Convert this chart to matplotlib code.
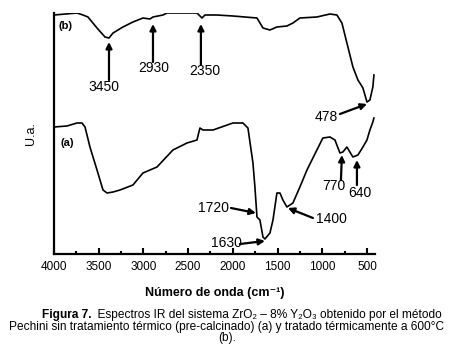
import matplotlib
matplotlib.use("Agg")
import matplotlib.pyplot as plt
from matplotlib.ticker import MultipleLocator

plt.rcParams['font.family'] = ['Liberation Sans', 'DejaVu Sans']

# espectro (b) tratado a 600 C: numero de onda (cm-1) y intensidad (u.a.)
wn_b = [4000, 3743, 3676, 3620, 3519, 3430, 3385, 3340, 3229, 3117, 3005, 2927,
        2893, 2781, 2737, 2401, 2345, 2312, 2178, 1999, 1730, 1663, 1585, 1507,
        1395, 1328, 1250, 1060, 914, 836, 780, 713, 657, 601, 545, 500, 467, 434, 422]
ua_b = [239, 241, 239, 237, 226, 217, 216, 221, 227, 232, 236, 235,
        237, 239, 241, 241, 236, 239, 239, 238, 236, 226, 224, 227,
        228, 231, 236, 237, 240, 239, 231, 207, 187, 174, 166, 152, 154, 167, 179]

# espectro (a) pre-calcinado
wn_a = [4000, 3855, 3743, 3687, 3653, 3598, 3519, 3452, 3407, 3340, 3262, 3117,
        3005, 2848, 2670, 2513, 2401, 2368, 2334, 2222, 1999, 1887, 1831, 1775,
        1753, 1730, 1697, 1663, 1641, 1585, 1551, 1507, 1473, 1440, 1395, 1328,
        1250, 1171, 1060, 993, 914, 858, 802, 769, 724, 691, 657, 601, 545, 500,
        467, 434, 422]
ua_a = [127, 128, 131, 131, 127, 107, 84, 64, 61, 62, 64, 69,
        81, 87, 104, 111, 114, 126, 124, 124, 131, 131, 126, 91,
        67, 37, 34, 17, 15, 21, 34, 61, 61, 54, 47, 51,
        67, 84, 104, 116, 117, 114, 101, 102, 107, 102, 97, 99, 107, 114,
        124, 132, 136]

xticks = [4000, 3500, 3000, 2500, 2000, 1500, 1000, 500]
xtick_labels = ['4000', '3500', '3000', '2500', '2000', '1500', '1000', '500']

fig = plt.figure(figsize=(4.5, 3.62), dpi=100)
ax = fig.add_axes([54 / 450, 1 - 254 / 362, (375 - 54) / 450, (254 - 13) / 362])

ax.plot(wn_b, ua_b, color='black', lw=1.2)
ax.plot(wn_a, ua_a, color='black', lw=1.2)

ax.set_xlim(4000, 410)
ax.set_ylim(0, 241)
ax.set_xticks(xticks)
ax.set_xticklabels(xtick_labels, fontsize=8.5)
ax.xaxis.set_minor_locator(MultipleLocator(250))
ax.tick_params(axis='x', which='major', direction='in', length=4, width=1.5, pad=5)
ax.tick_params(axis='x', which='minor', direction='in', length=2.5, width=1.5)
ax.set_yticks([])
for s in ['top', 'right']:
    ax.spines[s].set_visible(False)
for s in ['left', 'bottom']:
    ax.spines[s].set_linewidth(1.6)

ax.set_xlabel('Número de onda (cm⁻¹)', fontsize=9, fontweight='bold', labelpad=10)
ax.set_ylabel('U.a.', fontsize=9, labelpad=12)

ax.text(3866, 228, '(b)', fontsize=8, fontweight='bold', ha='center', va='center')
ax.text(3855, 111, '(a)', fontsize=8, fontweight='bold', ha='center', va='center')

arrow = dict(arrowstyle='-|>', lw=1.6, color='black', mutation_scale=9, shrinkA=0, shrinkB=0)
# (texto, punta de flecha, cola, posicion del texto)
notes = [
    ('3450', (3385, 212), (3385, 174), (3441, 167)),
    ('2930', (2893, 230), (2893, 192), (2882, 186)),
    ('2350', (2357, 230), (2357, 189), (2312, 183)),
    ('478', (500, 150), (802, 140), (959, 137)),
    ('1720', (1742, 41), (2021, 46), (2211, 46)),
    ('1630', (1641, 13), (1921, 10), (2077, 11)),
    ('1400', (1384, 46), (1104, 36), (892, 35)),
    ('770', (780, 99), (791, 74), (870, 68)),
    ('640', (612, 94), (612, 69), (579, 61)),
]
for txt, tip, tail, pos in notes:
    ax.annotate('', xy=tip, xytext=tail, arrowprops=arrow)
    ax.text(pos[0], pos[1], txt, fontsize=10, ha='center', va='center')

# pie de figura
cap_size = 8.6
fig.canvas.draw()
r = fig.canvas.get_renderer()
t1 = fig.text(0, 1 - 315 / 362, 'Figura 7.', fontsize=cap_size, fontweight='bold', va='center')
t2 = fig.text(0, 1 - 315 / 362, '  Espectros IR del sistema ZrO₂ – 8% Y₂O₃ obtenido por el método',
              fontsize=cap_size, va='center')
w1 = t1.get_window_extent(r).width
w2 = t2.get_window_extent(r).width
x0 = 242 - (w1 + w2) / 2
t1.set_x(x0 / 450)
t2.set_x((x0 + w1) / 450)
fig.text(227 / 450, 1 - 327 / 362,
         'Pechini sin tratamiento térmico (pre-calcinado) (a) y tratado térmicamente a 600°C',
         fontsize=cap_size, ha='center', va='center')
fig.text(227 / 450, 1 - 338 / 362, '(b).', fontsize=cap_size, ha='center', va='center')

fig.savefig('out.png', dpi=100)
